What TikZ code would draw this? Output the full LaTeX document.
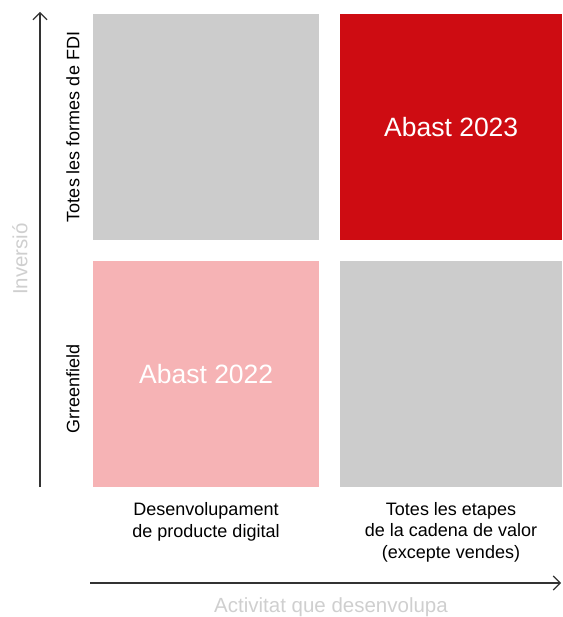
\documentclass[tikz,border=0pt]{standalone}
\usepackage{fontspec}
\setmainfont{Liberation Sans}
\usetikzlibrary{arrows.meta}
\definecolor{boxgray}{HTML}{CCCCCC}
\definecolor{boxred}{HTML}{CE0C12}
\definecolor{boxpink}{HTML}{F6B3B5}
\definecolor{axislabel}{HTML}{CFCFCF}
\definecolor{axisline}{HTML}{333333}
\tikzset{
  cell/.style={draw=none, minimum width=226pt, minimum height=226pt, inner sep=0pt, anchor=north west},
  celltext/.style={text=white, font=\fontsize{26.5}{30}\selectfont},
  ticklabel/.style={font=\fontsize{18}{21.5}\selectfont, align=center, text=black},
  axistitle/.style={font=\fontsize{20.5}{24}\selectfont, text=axislabel},
  axisarrow/.style={draw=axisline, line width=1.1pt, -{Straight Barb[length=7pt, width=14pt, line width=1.1pt]}}
}
\begin{document}
\begin{tikzpicture}[x=1pt, y=-1pt]
\useasboundingbox (0,0) rectangle (562,617);
\node[cell, fill=boxgray] (tl) at (93,14) {};
\node[cell, fill=boxred, minimum width=222pt] (tr) at (340,14) {};
\node[cell, fill=boxpink] (bl) at (93,261) {};
\node[cell, fill=boxgray, minimum width=222pt] (br) at (340,261) {};
\node[celltext] (t23) at (tr.center) {Abast 2023};
\node[celltext] (t22) at (bl.center) {Abast 2022};
\coordinate (yorig) at (40,487);
\coordinate (ytop) at (40,12);
\coordinate (xorig) at (90,583);
\coordinate (xend) at (561,583);
\draw[axisarrow] (yorig) -- (ytop);
\draw[axisarrow] (xorig) -- (xend);
\node[ticklabel, rotate=90] (yl1) at (73,127) {Totes les formes de FDI};
\node[ticklabel, rotate=90] (yl2) at (73,389) {Grreenfield};
\node[ticklabel] (xl1) at (206,522) {Desenvolupament\\de producte digital};
\node[ticklabel] (xl2) at (451,532) {Totes les etapes\\de la cadena de valor\\(excepte vendes)};
\node[axistitle, rotate=90] (ytitle) at (20,259) {Inversió};
\node[axistitle] (xtitle) at (331,607) {Activitat que desenvolupa};
\end{tikzpicture}
\end{document}
